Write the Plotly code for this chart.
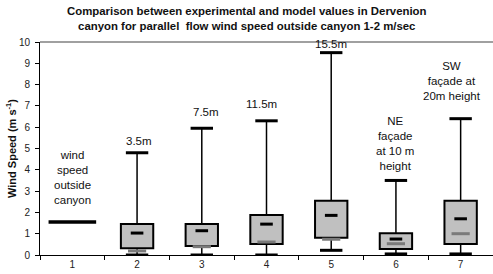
import plotly.graph_objects as go

# ---- data ----
categories = ["1", "2", "3", "4", "5", "6", "7"]
outside_cat = ["1"]
outside_speed = [1.55]

box_cats = ["2", "3", "4", "5", "6", "7"]
maxima = [4.8, 5.95, 6.3, 9.5, 3.5, 6.4]
q3 = [1.45, 1.45, 1.88, 2.55, 1.02, 2.55]
q1 = [0.32, 0.42, 0.52, 0.81, 0.28, 0.52]
means = [1.03, 1.14, 1.45, 1.86, 0.75, 1.70]
medians = [0.19, 0.39, 0.61, 0.74, 0.53, 1.0]
minima = [0.0, 0.0, 0.0, 0.22, 0.05, 0.05]

label_cats = ["1", "2", "3", "4", "5", "6", "7"]
label_texts = ["wind<br>speed<br>outside<br>canyon", "3.5m", "7.5m", "11.5m", "15.5m",
               "NE<br>façade<br>at 10 m<br>height", "SW<br>façade at<br>20m height"]
label_anchor = [outside_speed[0]] + maxima

title = ("Comparison between experimental and model values in Dervenion<br>"
         "canyon for parallel  flow wind speed outside canyon 1-2 m/sec")

FONT = "Liberation Sans, Arial, sans-serif"

fig = go.Figure()

# boxes (q1..q3)
fig.add_trace(go.Bar(
    x=box_cats, y=[h - l for h, l in zip(q3, q1)], base=q1, width=0.5,
    marker=dict(color="#c0c0c0", line=dict(color="black", width=2)),
    hoverinfo="skip", showlegend=False))

# whiskers
wx, wy = [], []
for c, lo, b, t, hi in zip(box_cats, minima, q1, q3, maxima):
    wx += [c, c, None, c, c, None]
    wy += [t, hi, None, lo, b, None]
fig.add_trace(go.Scatter(x=wx, y=wy, mode="lines",
                         line=dict(color="black", width=1.5),
                         hoverinfo="skip", showlegend=False))

# caps
fig.add_trace(go.Scatter(x=box_cats + box_cats, y=maxima + minima, mode="markers",
                         marker=dict(symbol="line-ew", size=16,
                                     line=dict(color="black", width=3)),
                         hoverinfo="skip", showlegend=False))

# medians
fig.add_trace(go.Scatter(x=box_cats, y=medians, mode="markers",
                         marker=dict(symbol="line-ew", size=13,
                                     line=dict(color="#7a7a7a", width=3)),
                         hoverinfo="skip", showlegend=False))

# means
fig.add_trace(go.Scatter(x=box_cats, y=means, mode="markers",
                         marker=dict(symbol="line-ew", size=9,
                                     line=dict(color="black", width=3)),
                         hoverinfo="skip", showlegend=False))

# outside wind speed
fig.add_trace(go.Scatter(x=outside_cat, y=outside_speed, mode="markers",
                         marker=dict(symbol="line-ew", size=34,
                                     line=dict(color="black", width=3.5)),
                         hoverinfo="skip", showlegend=False))

yshifts = [14, 4, 8, 9, 1, 6, 15]
xshifts = [0, 2, 4, -5, 0, -1, -9]
for c, t, a, ys, xs in zip(label_cats, label_texts, label_anchor, yshifts, xshifts):
    fig.add_annotation(x=categories.index(c), y=a, text=t, showarrow=False,
                       yanchor="bottom", yshift=ys, xshift=xs,
                       font=dict(family=FONT, size=11.5, color="#111"))

# title as annotation (centered on the page)
fig.add_annotation(x=0.5, xref="paper", xshift=-20, y=1, yref="paper",
                   yanchor="bottom", yshift=8, text="<b>" + title + "</b>",
                   showarrow=False,
                   font=dict(family=FONT, size=11.4, color="#111"))

# top border of plot area
fig.add_shape(type="line", xref="paper", yref="paper", x0=0, x1=1, y0=1, y1=1,
              line=dict(color="#808080", width=1.5))

fig.update_layout(
    width=493, height=274,
    margin=dict(l=40, r=0, t=42, b=19, autoexpand=False),
    paper_bgcolor="white", plot_bgcolor="white",
    font=dict(family=FONT, size=10, color="#222"),
    bargap=0.5,
)
fig.update_xaxes(type="category", categoryorder="array", categoryarray=categories,
                 range=[-0.5, 6.5], tickson="boundaries", ticks="outside", ticklen=4,
                 tickcolor="black", showline=True, linecolor="black", linewidth=1,
                 showgrid=False, zeroline=False, automargin=False,
                 tickfont=dict(family=FONT, size=10, color="#222"))
fig.update_yaxes(range=[0, 10], dtick=1, ticks="outside", ticklen=4, tickcolor="black",
                 showline=True, linecolor="black", linewidth=1, showgrid=False,
                 zeroline=False, automargin=False, ticklabelstandoff=3,
                 tickfont=dict(family=FONT, size=10, color="#222"),
                 title=dict(text="Wind Speed (m s<sup>-1</sup>)", standoff=0,
                            font=dict(family=FONT, size=11, color="#111", weight="bold")))

# remove the browser's default 8px page margin so the figure fills the window
fig.write_html("out.html",
               config={"displayModeBar": False},
               post_script="document.body.style.margin='0';"
                           "document.body.style.overflow='hidden';")
